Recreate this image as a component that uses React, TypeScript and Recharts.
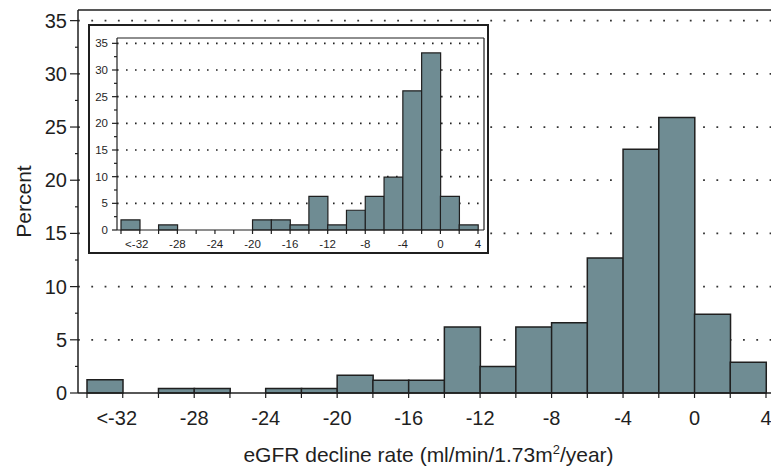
import React from "react";
import { BarChart, Bar, XAxis, YAxis, CartesianGrid } from "recharts";

// histogram bins, 2 units wide, labelled by their left edge
const bins = ["-34", "-32", "-30", "-28", "-26", "-24", "-22", "-20", "-18", "-16", "-14", "-12", "-10", "-8", "-6", "-4", "-2", "0", "2"];
const binStarts = [-34, -32, -30, -28, -26, -24, -22, -20, -18, -16, -14, -12, -10, -8, -6, -4, -2, 0, 2];

// main histogram (percent)
const mainPct = [1.24, 0, 0.43, 0.43, 0, 0.43, 0.43, 1.66, 1.2, 1.2, 6.2, 2.48, 6.2, 6.6, 12.7, 22.9, 25.9, 7.4, 2.9];
// inset histogram (percent)
const insetPct = [1.9, 0, 0.95, 0, 0, 0, 0, 1.9, 1.9, 0.95, 6.3, 0.95, 3.7, 6.3, 9.9, 26.1, 33.2, 6.3, 0.95];

const xTicks = [-34, -32, -30, -28, -26, -24, -22, -20, -18, -16, -14, -12, -10, -8, -6, -4, -2, 0, 2, 4];
const xLabels = [-32, -28, -24, -20, -16, -12, -8, -4, 0, 4];
const yTicks = [0, 2.5, 5, 7.5, 10, 12.5, 15, 17.5, 20, 22.5, 25, 27.5, 30, 32.5, 35];
const gridValues = [5, 10, 15, 20, 25, 30, 35];

const INK = "#1f1f1f";
const BAR = "#6f8c93";
const FONT = '"Liberation Sans", Arial, Helvetica, sans-serif';

const mainData = bins.map((b, i) => ({ bin: b, start: binStarts[i], pct: mainPct[i] }));
const insetData = bins.map((b, i) => ({ bin: b, start: binStarts[i], pct: insetPct[i] }));

const fmtX = (v: number) => (v === -32 ? "<-32" : String(v));

function makeXTick(len: number, labelDy: number, fontSize: number, firstShift: number) {
  return (props: any) => {
    const { x, y, payload } = props;
    const v = payload.value;
    return (
      <g>
        <line x1={x} x2={x} y1={y} y2={y + len} stroke={INK} strokeWidth={1.2} />
        {xLabels.includes(v) && (
          <text
            x={x + (v === -32 ? firstShift : 0)}
            y={y + labelDy}
            textAnchor="middle"
            fontSize={fontSize}
            fontFamily={FONT}
            fill={INK}
          >
            {fmtX(v)}
          </text>
        )}
      </g>
    );
  };
}

function makeYTick(major: number, minor: number, gap: number, dy: number, fontSize: number) {
  return (props: any) => {
    const { x, y, payload } = props;
    const v = payload.value;
    const isMajor = v % 5 === 0;
    return (
      <g>
        <line x1={x - (isMajor ? major : minor)} x2={x} y1={y} y2={y} stroke={INK} strokeWidth={1.2} />
        {isMajor && (
          <text x={x - gap} y={y + dy} textAnchor="end" fontSize={fontSize} fontFamily={FONT} fill={INK}>
            {v}
          </text>
        )}
      </g>
    );
  };
}

const PercentLabel = (props: any) => {
  const { viewBox } = props;
  const cx = viewBox.x + 31;
  const cy = viewBox.y + viewBox.height / 2;
  return (
    <text x={cx} y={cy} transform={`rotate(-90, ${cx}, ${cy})`} textAnchor="middle" fontSize={21} fontFamily={FONT} fill={INK}>
      Percent
    </text>
  );
};

const TitleLabel = (props: any) => {
  const { viewBox } = props;
  const cx = viewBox.x + viewBox.width / 2 + 4;
  const cy = viewBox.y + 69;
  return (
    <text x={cx} y={cy} textAnchor="middle" fontSize={21} fontFamily={FONT} fill={INK}>
      eGFR decline rate (ml/min/1.73m
      <tspan dy={-8} fontSize={13}>2</tspan>
      <tspan dy={8} fontSize={21}>/year)</tspan>
    </text>
  );
};

function Inset() {
  return (
    <div
      style={{
        position: "absolute",
        left: 88,
        top: 24,
        width: 401,
        height: 230,
        boxSizing: "border-box",
        border: `2px solid ${INK}`,
        background: "#fff",
      }}
    >
      <BarChart width={397} height={226} data={insetData} barCategoryGap={0} margin={{ top: 11, right: 2, left: 0, bottom: 0 }}>
        <CartesianGrid
          horizontal
          vertical={false}
          horizontalValues={gridValues}
          stroke="#222"
          strokeWidth={1.6}
          strokeDasharray="1.6 7.4"
        />
        <XAxis xAxisId="bins" dataKey="bin" type="category" hide padding={{ left: 4, right: 6 }} />
        <XAxis
          dataKey="start"
          type="number"
          domain={[-34, 4]}
          ticks={xTicks}
          interval={0}
          padding={{ left: 4, right: 6 }}
          height={22}
          tickSize={0}
          tickMargin={0}
          tickLine={false}
          axisLine={{ stroke: INK, strokeWidth: 1.2 }}
          tick={makeXTick(4, 18, 11.5, -3)}
        />
        <XAxis
          xAxisId="top"
          orientation="top"
          dataKey="start"
          type="number"
          domain={[-34, 4]}
          height={1}
          tick={false}
          tickLine={false}
          axisLine={{ stroke: INK, strokeWidth: 1.2 }}
        />
        <YAxis
          type="number"
          domain={[0, 36]}
          ticks={yTicks}
          interval={0}
          width={27}
          tickSize={0}
          tickMargin={0}
          tickLine={false}
          axisLine={{ stroke: INK, strokeWidth: 1.2 }}
          tick={makeYTick(5, 3, 9, 4, 11.5)}
        />
        <YAxis
          yAxisId="right"
          orientation="right"
          type="number"
          domain={[0, 36]}
          width={1}
          tick={false}
          tickLine={false}
          axisLine={{ stroke: INK, strokeWidth: 1.2 }}
        />
        <Bar xAxisId="bins" dataKey="pct" fill={BAR} stroke={INK} strokeWidth={1.2} isAnimationActive={false} />
      </BarChart>
    </div>
  );
}

export default function App() {
  return (
    <div style={{ position: "absolute", left: 0, top: 0, width: 771, height: 470, background: "#fff", fontFamily: FONT }}>
      <BarChart width={771} height={470} data={mainData} barCategoryGap={0} margin={{ top: 9, right: 0, left: 0, bottom: 0 }}>
        <CartesianGrid
          horizontal
          vertical={false}
          horizontalValues={gridValues}
          stroke="#333"
          strokeWidth={1.8}
          strokeDasharray="1.8 11.5"
        />
        <XAxis xAxisId="bins" dataKey="bin" type="category" hide padding={{ left: 9, right: 5 }} />
        <XAxis
          dataKey="start"
          type="number"
          domain={[-34, 4]}
          ticks={xTicks}
          interval={0}
          padding={{ left: 9, right: 5 }}
          height={77}
          tickSize={0}
          tickMargin={0}
          tickLine={false}
          axisLine={{ stroke: INK, strokeWidth: 1.5 }}
          tick={makeXTick(5, 32, 20, -6)}
          label={<TitleLabel />}
        />
        <XAxis
          xAxisId="top"
          orientation="top"
          dataKey="start"
          type="number"
          domain={[-34, 4]}
          height={1}
          tick={false}
          tickLine={false}
          axisLine={{ stroke: INK, strokeWidth: 1.5 }}
        />
        <YAxis
          type="number"
          domain={[0, 36]}
          ticks={yTicks}
          interval={0}
          width={78}
          tickSize={0}
          tickMargin={0}
          tickLine={false}
          axisLine={{ stroke: INK, strokeWidth: 1.5 }}
          tick={makeYTick(8, 3, 11, 7, 20)}
          label={<PercentLabel />}
        />
        <Bar xAxisId="bins" dataKey="pct" fill={BAR} stroke={INK} strokeWidth={1.5} isAnimationActive={false} />
      </BarChart>
      <Inset />
    </div>
  );
}
